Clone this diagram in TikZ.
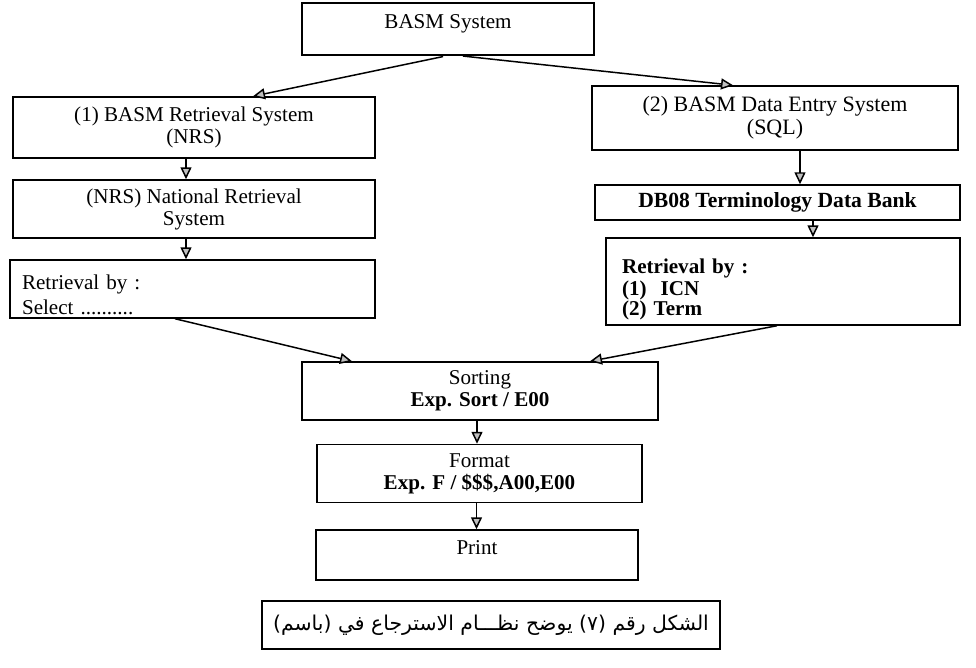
\documentclass[tikz,border=0pt]{standalone}
\usepackage{fontspec}
\setmainfont{Liberation Serif}
\newfontfamily\arabicfont[Script=Arabic]{DejaVu Sans}
\TeXXeTstate=1
\usetikzlibrary{arrows.meta}

\begin{document}
\begin{tikzpicture}[x=0.02cm, y=-0.02cm, >={Triangle[length=2.4mm,width=2.2mm,fill=gray!50]}, line width=0.85pt]
        \tikzstyle{block}=[draw, shape=rectangle, align=center, inner sep=0pt, font=\fontsize{12}{12.5}\selectfont]
        \tikzstyle{listblock}=[block, align=left]

        \useasboundingbox (0,0) rectangle (976,668);

        \node[block, minimum width=5.84cm, minimum height=1.04cm, text depth=0.3cm](basm) at (448,29){BASM System};
        \node[block, minimum width=7.24cm, minimum height=1.22cm](ret) at (194,127.5){(1) BASM Retrieval System\\(NRS)};
        \node[block, minimum width=7.24cm, minimum height=1.16cm](nrs) at (194,209){(NRS) National Retrieval\\System};
        \node[listblock, text width=6.82cm, inner xsep=0.24cm, minimum height=1.16cm, text height=0.52cm](sel) at (192.5,289){Retrieval by :\\[1.7pt]Select ..........};
        \node[block, minimum width=7.32cm, minimum height=1.28cm, font=\fontsize{12.5}{13}\selectfont](entry) at (775,118){(2) BASM Data Entry System\\(SQL)};
        \node[block, minimum width=7.3cm, minimum height=0.7cm, font=\fontsize{12.3}{13}\selectfont\bfseries](bank) at (777.5,202.5){DB08 Terminology Data Bank};
        \node[listblock, text width=6.44cm, inner xsep=0.32cm, minimum height=1.74cm, text height=0.62cm, font=\fontsize{12}{12.5}\selectfont\bfseries](term) at (783,281.5){Retrieval by :\\[0pt](1)\ \ ICN\\[-1pt](2) Term};
        \node[block, minimum width=7.12cm, minimum height=1.16cm](sort) at (480,391){Sorting\\\textbf{Exp. Sort / E00}};
        \node[block, minimum width=6.5cm, minimum height=1.16cm](format) at (479.5,473.5){Format\\\textbf{Exp. F / \$\$\$,A00,E00}};
        \node[block, minimum width=6.44cm, minimum height=1.0cm, text depth=0.3cm](print) at (477,555){Print};
        \node[block, minimum width=9.16cm, minimum height=0.96cm, font=\arabicfont\fontsize{11.6}{14}\selectfont](caption) at (491,625){\beginR الشكل رقم (٧) يوضح نظـــام الاسترجاع في (باسم)\endR};

        \draw[->, shorten <=0.08cm] ([xshift=-0.02cm]basm.south) -- ([xshift=1.18cm]ret.north);
        \draw[->, shorten <=0.06cm] ([xshift=0.24cm]basm.south) -- ([xshift=-0.84cm]entry.north);
        \draw[->] ([xshift=-0.16cm]ret.south) -- ([xshift=-0.16cm]ret.south |- nrs.north);
        \draw[->] ([xshift=-0.16cm]nrs.south) -- ([xshift=-0.16cm]nrs.south |- sel.north);
        \draw[->] ([xshift=0.5cm]entry.south) -- ([xshift=0.5cm]entry.south |- bank.north);
        \draw[->] ([xshift=0.71cm]bank.south) -- ([xshift=0.71cm]bank.south |- term.north);
        \draw[->] ([xshift=-0.35cm]sel.south) -- ([xshift=-2.56cm]sort.north);
        \draw[->] ([xshift=-0.12cm]term.south) -- ([xshift=2.2cm]sort.north);
        \draw[->] ([xshift=-0.06cm]sort.south) -- ([xshift=-0.06cm]sort.south |- format.north);
        \draw[->] ([xshift=-0.06cm]format.south) -- ([xshift=-0.06cm]format.south |- print.north);

\end{tikzpicture}
\end{document}
